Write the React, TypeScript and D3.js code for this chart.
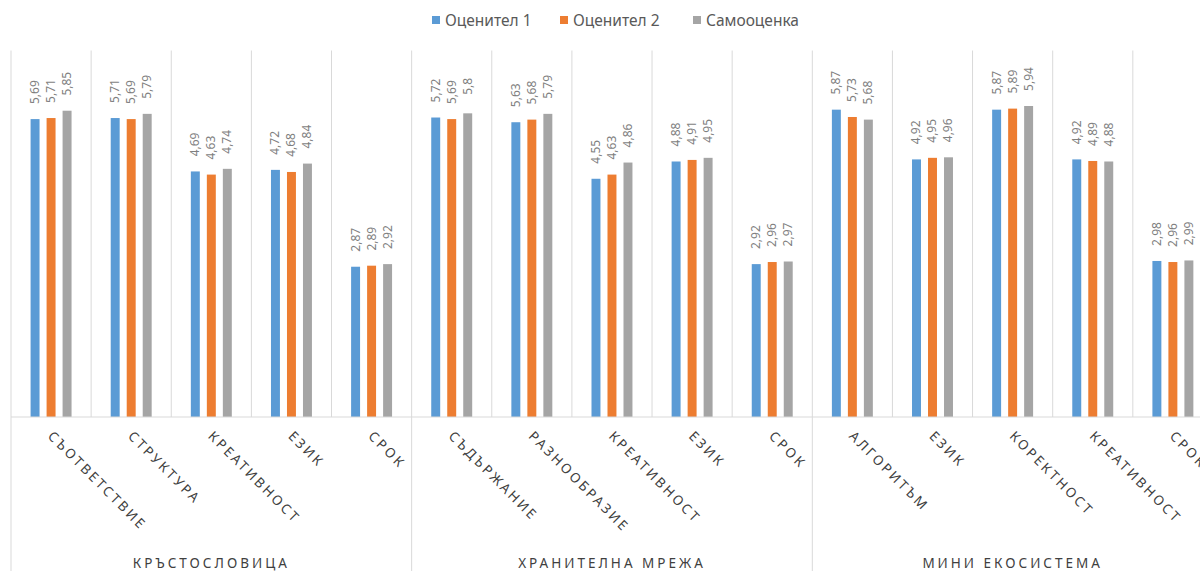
import React from "react";
import * as d3 from "d3";

// Criteria shown on the x axis, grouped by task
const groups = ["КРЪСТОСЛОВИЦА", "ХРАНИТЕЛНА МРЕЖА", "МИНИ ЕКОСИСТЕМА"];
const criteria = [
  ["СЪОТВЕТСТВИЕ", "СТРУКТУРА", "КРЕАТИВНОСТ", "ЕЗИК", "СРОК"],
  ["СЪДЪРЖАНИЕ", "РАЗНООБРАЗИЕ", "КРЕАТИВНОСТ", "ЕЗИК", "СРОК"],
  ["АЛГОРИТЪМ", "ЕЗИК", "КОРЕКТНОСТ", "КРЕАТИВНОСТ", "СРОК"],
];

// Scores per series, in the same order as the criteria above
const seriesNames = ["Оценител 1", "Оценител 2", "Самооценка"];
const evaluator1 = [5.69, 5.71, 4.69, 4.72, 2.87, 5.72, 5.63, 4.55, 4.88, 2.92, 5.87, 4.92, 5.87, 4.92, 2.98];
const evaluator2 = [5.71, 5.69, 4.63, 4.68, 2.89, 5.69, 5.68, 4.63, 4.91, 2.96, 5.73, 4.95, 5.89, 4.89, 2.96];
const selfAssessment = [5.85, 5.79, 4.74, 4.84, 2.92, 5.8, 5.79, 4.86, 4.95, 2.97, 5.68, 4.96, 5.94, 4.88, 2.99];
const seriesColors = ["#5b9bd5", "#ed7d31", "#a5a5a5"];

const yDomain = [0, 7];

const W = 1200;
const H = 571;
const plotLeft = 11;
const catWidth = 80.13;
const plotTop = 50.5;
const baseY = 417;

const font = "'Noto Sans', 'Open Sans', sans-serif";

export default function App() {
  const categories = criteria.flatMap((list, g) => list.map((c, i) => ({ key: `${g}-${i}`, label: c, group: g })));
  const values = [evaluator1, evaluator2, selfAssessment];

  const x = d3
    .scaleBand<string>()
    .domain(categories.map((c) => c.key))
    .range([plotLeft, plotLeft + catWidth * categories.length])
    .padding(0);

  // offsets of the three bars around the category centre
  const inner = d3
    .scaleBand<number>()
    .domain(d3.range(seriesNames.length))
    .range([-24, 24])
    .paddingInner(0.44)
    .paddingOuter(0.22);

  const y = d3.scaleLinear().domain(yDomain).range([baseY, plotTop]);

  const fmt = (v: number) => String(v).replace(".", ",");

  const groupBounds = criteria.map((list, g) => {
    const first = x(`${g}-0`)!;
    const last = x(`${g}-${list.length - 1}`)! + x.bandwidth();
    return { g, x0: first, x1: last };
  });

  const legendX = [432, 560, 693];

  return (
    <svg
      width={W}
      height={H}
      style={{ position: "absolute", left: 0, top: 0, background: "#fff" }}
      fontFamily={font}
    >
      {/* legend */}
      {seriesNames.map((name, i) => (
        <g key={name} transform={`translate(${legendX[i]},0)`}>
          <rect x={0} y={16} width={8} height={8} fill={seriesColors[i]} />
          <text x={13} y={25.5} fontSize={15.5} fill="#595959">
            {name}
          </text>
        </g>
      ))}

      {/* vertical separators between categories */}
      {categories.map((c) => (
        <line
          key={`sep-${c.key}`}
          x1={x(c.key)!}
          x2={x(c.key)!}
          y1={plotTop}
          y2={baseY}
          stroke="#d9d9d9"
          strokeWidth={1}
        />
      ))}
      <line x1={x.range()[1]} x2={x.range()[1]} y1={plotTop} y2={H} stroke="#d9d9d9" />

      {/* group separators running through the label area */}
      {groupBounds.map((b) => (
        <line key={`gsep-${b.g}`} x1={b.x0} x2={b.x0} y1={baseY} y2={H} stroke="#d9d9d9" />
      ))}

      {/* bars */}
      {categories.map((c, ci) => {
        const cx = x(c.key)! + x.bandwidth() / 2;
        return (
          <g key={`bars-${c.key}`}>
            {values.map((vals, si) => {
              const top = y(vals[ci]);
              return (
                <rect
                  key={si}
                  x={cx + inner(si)!}
                  y={top}
                  width={inner.bandwidth()}
                  height={baseY - top}
                  fill={seriesColors[si]}
                />
              );
            })}
            {values.map((vals, si) => {
              const lx = cx + inner(si)! + inner.bandwidth() / 2 + 4;
              const ly = y(vals[ci]) - 27;
              return (
                <text
                  key={`lbl-${si}`}
                  transform={`translate(${lx},${ly}) rotate(-90)`}
                  textAnchor="middle"
                  fontSize={12}
                  fill="#7f7f7f"
                >
                  {fmt(vals[ci])}
                </text>
              );
            })}
          </g>
        );
      })}

      {/* baseline */}
      <line x1={plotLeft} x2={x.range()[1]} y1={baseY} y2={baseY} stroke="#d9d9d9" />

      {/* category labels */}
      {categories.map((c) => {
        const cx = x(c.key)! + x.bandwidth() / 2;
        return (
          <text
            key={`cl-${c.key}`}
            transform={`translate(${cx - 4},${baseY + 20}) rotate(45)`}
            fontSize={13.5}
            letterSpacing={2.6}
            fill="#404040"
          >
            {c.label}
          </text>
        );
      })}

      {/* group labels */}
      {groupBounds.map((b) => (
        <text
          key={`gl-${b.g}`}
          x={(b.x0 + b.x1) / 2}
          y={568}
          textAnchor="middle"
          fontSize={13.5}
          letterSpacing={3}
          fill="#404040"
        >
          {groups[b.g]}
        </text>
      ))}
    </svg>
  );
}
